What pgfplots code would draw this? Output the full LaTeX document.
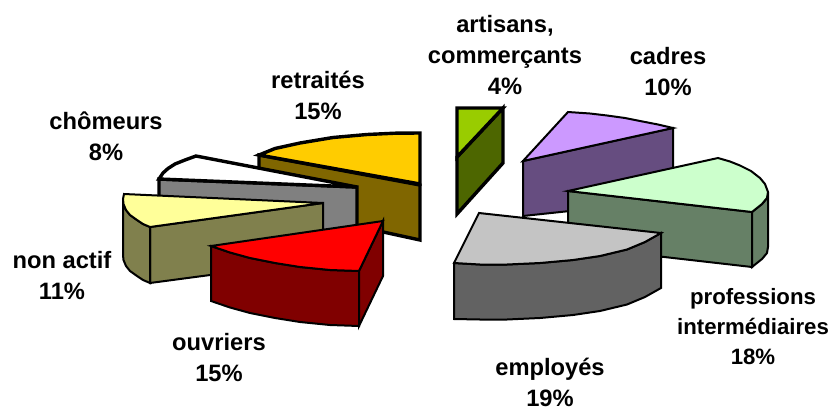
\documentclass[border=0pt]{standalone}
\usepackage{pgfplots}
\pgfplotsset{compat=1.18}
\usepackage{fontspec}
\setmainfont{Liberation Sans}
\definecolor{cRetT}{HTML}{FFCC00}\definecolor{cRetW}{HTML}{806600}
\definecolor{cChoW}{HTML}{808080}
\definecolor{cNonT}{HTML}{FFFF99}\definecolor{cNonW}{HTML}{80804D}
\definecolor{cOuvT}{HTML}{FF0000}\definecolor{cOuvW}{HTML}{800000}
\definecolor{cArtT}{HTML}{99CC00}\definecolor{cArtW}{HTML}{4D6600}
\definecolor{cCadT}{HTML}{CC99FF}\definecolor{cCadW}{HTML}{664D80}
\definecolor{cProT}{HTML}{CCFFCC}\definecolor{cProW}{HTML}{668066}
\definecolor{cEmpT}{HTML}{C4C4C4}\definecolor{cEmpW}{HTML}{626262}
\tikzset{lab/.style={font=\fontsize{23.7}{31}\selectfont\bfseries,align=center,text=black,anchor=center,inner sep=0pt}}
\begin{document}
\begin{tikzpicture}
\begin{axis}[at={(0pt,0pt)},anchor=south west,hide axis,scale only axis,width=836pt,height=410pt,
  xmin=0,xmax=836,ymin=0,ymax=410,y dir=reverse,clip=false,
  every axis plot/.append style={mark=none,line join=miter}]
% retraites
\addplot[draw=black,line width=3.4pt,fill=cRetW] coordinates {(259,155)(420,185)(420,240)(259,205)} -- cycle;
\addplot[draw=black,line width=3.4pt,fill=cRetT] coordinates {(259,155)(275,148.5)(300,143)(333,137.5)(367,134.5)(395,133.2)(420,133)(420,184)} -- cycle;
% chomeurs
\addplot[draw=black,line width=3.4pt,fill=cChoW] coordinates {(159,179)(357,187)(357,232)(159,225)} -- cycle;
\addplot[draw=black,line width=3.4pt,fill=white] coordinates {(159,179)(163,173)(168,168.5)(175,164)(185,160)(196,156)(357,187)} -- cycle;
% non actif
\addplot[draw=black,line width=2pt,fill=cNonW] coordinates {(150,227)(323,203)(323,260)(150,283)} -- cycle;
\addplot[draw=black,line width=2pt,fill=cNonW] coordinates {(123,199)(123.5,204)(126,210)(130,215)(137,220)(143,224)(150,227)(150,283)(143,280)(137,276)(130,271)(126,266)(123.5,260)(123,255)} -- cycle;
\addplot[draw=black,line width=2pt,fill=cNonT] coordinates {(124,194)(123,199)(123.5,204)(126,210)(130,215)(137,220)(143,224)(150,227)(323,203)} -- cycle;
% ouvriers
\addplot[draw=black,line width=2pt,fill=cOuvW] coordinates {(211,246)(230,252.5)(250,258)(275,263)(300,267)(330,270)(359,271)(359,326)(330,325)(300,322)(275,318)(250,313)(230,307.5)(211,301)} -- cycle;
\addplot[draw=black,line width=2pt,fill=cOuvW] coordinates {(359,271)(383,221)(383,276)(359,326)} -- cycle;
\addplot[draw=black,line width=2pt,fill=cOuvT] coordinates {(211,246)(230,252.5)(250,258)(275,263)(300,267)(330,270)(359,271)(383,221)} -- cycle;
% artisans
\addplot[draw=black,line width=3.4pt,fill=cArtW] coordinates {(457,157)(503,108)(503,163)(457,214)} -- cycle;
\addplot[draw=black,line width=3.4pt,fill=cArtT] coordinates {(457,108)(503,108)(457,157)} -- cycle;
% cadres
\addplot[draw=black,line width=2pt,fill=cCadW] coordinates {(523,161)(673,128)(673,200)(523,216)} -- cycle;
\addplot[draw=black,line width=2pt,fill=cCadT] coordinates {(523,161)(568,112)(590,113.5)(607,115.5)(625,118)(640,121)(658,124.5)(673,128)} -- cycle;
% professions
\addplot[draw=black,line width=2pt,fill=cProW] coordinates {(568,191)(752,212)(752,267)(568,246)} -- cycle;
\addplot[draw=black,line width=2pt,fill=cProW] coordinates {(768,192)(767,198)(762,204)(752,212)(752,267)(762,259)(767,253)(768,247)} -- cycle;
\addplot[draw=black,line width=2pt,fill=cProT] coordinates {(568,191)(718,158)(730,161.5)(740,165.5)(751,171)(760,178)(765,184)(768,192)(767,198)(762,204)(752,212)} -- cycle;
% employes
\addplot[draw=black,line width=2pt,fill=cEmpW] coordinates {(454,263)(480,264.5)(507,264.5)(540,263)(573,260)(600,256)(627,249.5)(645,242)(661,233)(661,288)(645,297)(627,304.5)(600,311)(573,315)(540,318)(507,319.5)(480,319.5)(454,319)} -- cycle;
\addplot[draw=black,line width=2pt,fill=cEmpT] coordinates {(479,213)(661,233)(645,242)(627,249.5)(600,256)(573,260)(540,263)(507,264.5)(480,264.5)(454,263)} -- cycle;
% labels
\node[lab] at (axis cs:505,55) {artisans,\\commerçants\\4\%};
\node[lab] at (axis cs:668,72) {cadres\\10\%};
\node[lab] at (axis cs:318,95) {retraités\\15\%};
\node[lab] at (axis cs:106,136) {chômeurs\\8\%};
\node[lab] at (axis cs:62,276) {non actif\\11\%};
\node[lab] at (axis cs:219,358) {ouvriers\\15\%};
\node[lab] at (axis cs:550,382) {employés\\19\%};
\node[lab,font=\fontsize{22.2}{30}\selectfont\bfseries] at (axis cs:753,327) {professions\\intermédiaires\\18\%};
\end{axis}
\path[use as bounding box] (0pt,0pt) rectangle (836pt,410pt);
\end{tikzpicture}
\end{document}
